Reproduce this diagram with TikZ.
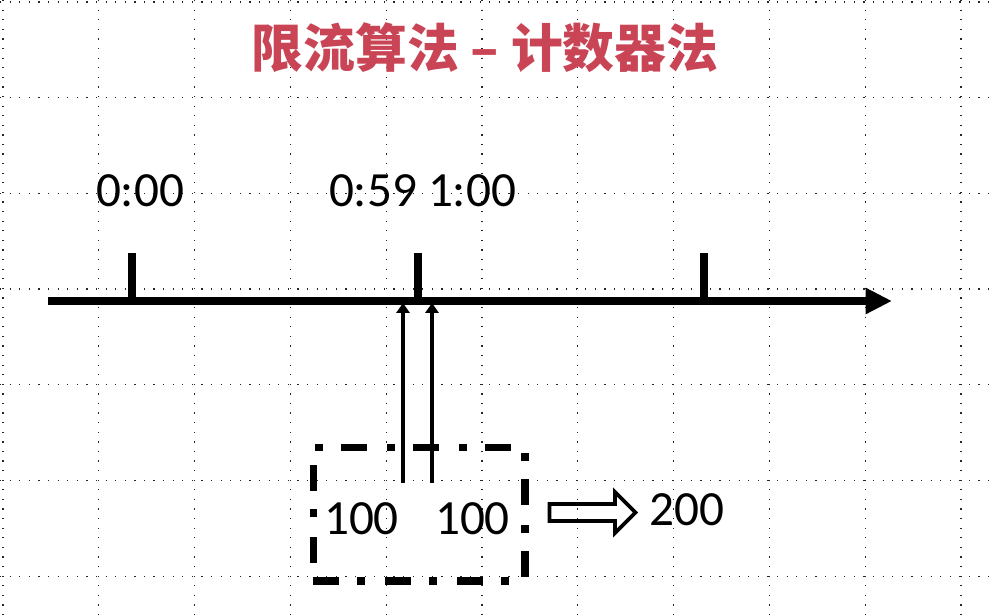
\documentclass[tikz,border=0pt]{standalone}
\usepackage{xcolor}
\usepackage{fontspec}
\setmainfont{Carlito}
\newfontfamily\cjk{Noto Sans CJK SC}
\usetikzlibrary{arrows.meta}
\definecolor{titlered}{RGB}{201,69,86}
\tikzstyle{griddot} = [black!85, line width = 0.7pt, dash pattern = on 0.7pt off 4.76pt]
\tikzstyle{stamp} = [inner sep = 0pt, font = \fontsize{28}{30}\selectfont]
\tikzstyle{stub} = [line width = 4.6pt]
\tikzstyle{timeline} = [line width = 4.5pt, ->, >= {Triangle[length = 15pt, width = 14pt]}]
\tikzstyle{line} = [line width = 2.2pt, ->, >= {Triangle[length = 5.6pt, width = 7.4pt]}]
\tikzstyle{window} = [draw, line width = 4pt, dash pattern = on 14.8pt off 10.2pt on 4.6pt off 11.4pt, minimum width = 4.24 cm, minimum height = 2.68 cm]
\tikzstyle{hollow} = [line width = 2.2pt, miter limit = 4]

\begin{document}
\begin{tikzpicture}[x = 0.02 cm, y = -0.02 cm]
        \useasboundingbox (0,0) rectangle (990,615);
        \foreach \k in {0,...,10} \draw[griddot] (3+95.8*\k,0) -- (3+95.8*\k,615);
        \foreach \k in {0,...,6} \draw[griddot] (0,2+95.7*\k) -- (990,2+95.7*\k);
        \node (title) at (485,48) {\cjk\fontsize{29.5}{31}\selectfont\bfseries\color{titlered}限流算法 – 计数器法};
        \coordinate (O) at (48,301);
        \coordinate (T0) at (132,301);
        \coordinate[right of = T0, node distance = 5.72 cm] (T1);
        \coordinate[right of = T1, node distance = 5.72 cm] (T2);
        \coordinate (E) at (892,301);
        \draw[timeline] (O) -- (E);
        \foreach \t in {T0,T1,T2} \draw[stub] (\t) -- ++(0,-48);
        \node (L0) [stamp] at (140,191) {0:00};
        \node (L1) [stamp] at (373,191) {0:59};
        \node (L2) [stamp] at (472,191) {1:00};
        \node (win) [window] at (419,514) {};
        \node (c1) [stamp] at (361.5,519) {100};
        \node (c2) [stamp] at (472.5,519) {100};
        \node (sum) [stamp] at (687,510) {200};
        \coordinate (a1) at (403,483);
        \coordinate (a2) at (432,483);
        \coordinate (h1) at (403,303);
        \coordinate (h2) at (432,303);
        \draw[line] (a1) -- (h1);
        \draw[line] (a2) -- (h2);
        %\draw[line] (win) -- (sum);
        \coordinate (f) at (549.5,512.5);
        \draw[hollow] (f) ++(0,-8.5) -- ++(65.5,0) -- ++(0,-12) -- ++(20.5,20.5) -- ++(-20.5,20.5) -- ++(0,-12) -- ++(-65.5,0) -- cycle;
    \end{tikzpicture}
\end{document}
